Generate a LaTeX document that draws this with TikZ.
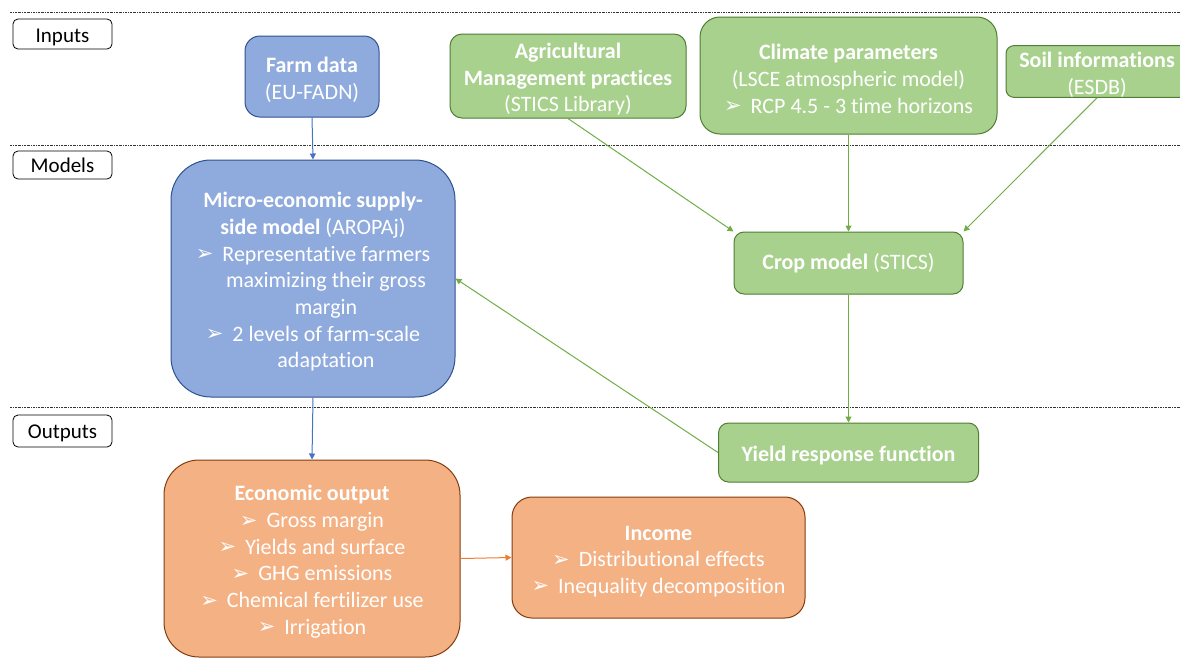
\documentclass[tikz,border=0pt]{standalone}
\usepackage{fontspec}
\setmainfont{Carlito}[Ligatures={NoCommon}]
\newfontfamily\dvfont{DejaVu Sans}
\usetikzlibrary{arrows.meta}
\definecolor{bfill}{HTML}{8FAADC}
\definecolor{bdraw}{HTML}{2F528F}
\definecolor{barrow}{HTML}{4472C4}
\definecolor{gfill}{HTML}{A9D18E}
\definecolor{gdraw}{HTML}{507E32}
\definecolor{garrow}{HTML}{70AD47}
\definecolor{ofill}{HTML}{F4B183}
\definecolor{odraw}{HTML}{843C0C}
\definecolor{oarrow}{HTML}{ED7D31}
\newcommand\arrbul{\raisebox{0.5pt}{\dvfont\fontsize{21}{21}\selectfont ➢}\hspace{9pt}}
\newcommand\tstrut{\rule{0pt}{22pt}}
\begin{document}
\begin{tikzpicture}[x=1pt,y=-1pt,
  box/.style={line width=1pt, text=white, align=center, inner sep=0pt,
    font=\fontsize{22}{26.7}\selectfont},
  bluebox/.style={box, fill=bfill, draw=bdraw},
  greenbox/.style={box, fill=gfill, draw=gdraw},
  orangebox/.style={box, fill=ofill, draw=odraw},
  label/.style={draw=black, line width=0.8pt, rounded corners=5pt, minimum width=99pt,
    minimum height=30pt, inner sep=0pt, font=\fontsize{21}{24}\selectfont},
  sep/.style={line width=0.6pt, black!80, dash pattern=on 2pt off 1pt on 0.6pt off 1pt},
  conn/.style={line width=1pt, -{Triangle[length=6pt,width=6pt]}}
]
\useasboundingbox (0,0) rectangle (1180,659);
\clip (0,0) rectangle (1180,659);

% separators
\coordinate (s1a) at (10,12);   \coordinate (s1b) at (1180,12);
\coordinate (s2a) at (10,145);  \coordinate (s2b) at (1180,145);
\coordinate (s3a) at (10,407);  \coordinate (s3b) at (1180,407);
\draw[sep] (s1a) -- (s1b);
\draw[sep] (s2a) -- (s2b);
\draw[sep] (s3a) -- (s3b);

% section labels
\node[label] (inputs) at (62.5,34) {\rule{0pt}{19.5pt}Inputs};
\node[label, minimum height=28pt] (models) at (62.5,165) {Models};
\node[label, minimum height=32pt] (outputs) at (62.5,431) {\rule{0pt}{19pt}Outputs};

% blue boxes
\node[bluebox, rounded corners=15pt, minimum width=134pt, minimum height=81pt] (farm) at (312,76.5)
  {\tstrut\textbf{Farm data}\\(EU-FADN)};
\node[bluebox, rounded corners=40pt, minimum width=284pt, minimum height=237pt] (micro) at (313,278.5)
  {\tstrut\textbf{Micro-economic supply-}\\\textbf{side model} (AROPAj)\\\arrbul Representative farmers\\\hspace*{26pt}maximizing their gross\\\hspace*{26pt}margin\\\arrbul 2 levels of farm-scale\\\hspace*{26pt}adaptation};

% green boxes
\node[greenbox, rounded corners=12pt, minimum width=236pt, minimum height=84pt] (agri) at (568,76)
  {\tstrut\textbf{Agricultural}\\\textbf{Management practices}\\(STICS Library)};
\node[greenbox, rounded corners=20pt, minimum width=297pt, minimum height=117pt] (climate) at (848.5,75.5)
  {\tstrut\textbf{Climate parameters}\\(LSCE atmospheric model)\\\arrbul RCP 4.5 - 3 time horizons};
\node[greenbox, rounded corners=8pt, minimum width=182pt, minimum height=51pt] (soil) at (1097,71.5)
  {\tstrut\textbf{Soil informations}\\(ESDB)};
\node[greenbox, rounded corners=10pt, minimum width=229pt, minimum height=62pt] (crop) at (848.5,263)
  {\textbf{Crop model} (STICS)};
\node[greenbox, rounded corners=10pt, minimum width=260pt, minimum height=59pt] (yield) at (848.5,452.5)
  {\tstrut\textbf{Yield response function}};

% orange boxes
\node[orangebox, rounded corners=35pt, minimum width=296pt, minimum height=197pt] (econ) at (312,558.5)
  {\tstrut\textbf{Economic output}\\\arrbul Gross margin\\\arrbul Yields and surface\\\arrbul GHG emissions\\\arrbul Chemical fertilizer use\\\arrbul Irrigation};
\node[orangebox, rounded corners=20pt, minimum width=293pt, minimum height=121pt] (income) at (658.5,557.5)
  {\tstrut\textbf{Income}\\\arrbul Distributional effects\\\arrbul Inequality decomposition};

% connectors
\draw[conn, barrow] (farm.south) -- (micro.north);
\draw[conn, barrow] (micro.south) -- (econ.north);
\draw[conn, garrow] (agri.south) -- (crop.north west);
\draw[conn, garrow] (climate.south) -- (crop.north);
\draw[conn, garrow] (soil.south) -- (crop.north east);
\draw[conn, garrow] (crop.south) -- (yield.north);
\draw[conn, garrow] (yield.west) -- (micro.east);
\draw[conn, oarrow] (econ.east) -- (income.west);
\end{tikzpicture}
\end{document}
